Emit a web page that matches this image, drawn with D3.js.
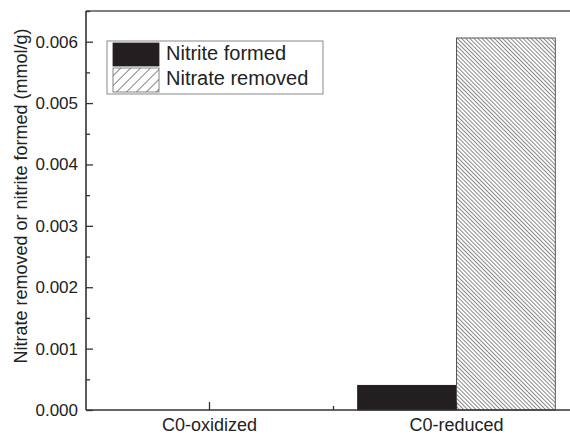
<!DOCTYPE html>
<html><head><meta charset="utf-8">
<script src="https://cdn.jsdelivr.net/npm/d3@7"></script>
<style>body{margin:0;background:#fff}svg{display:block;font-family:"Liberation Sans",Arial,sans-serif}</style>
</head><body><svg id="c" width="570" height="435"></svg>
<script>
const categories = ["C0-oxidized", "C0-reduced"];
const seriesNames = ["Nitrite formed", "Nitrate removed"];
const nitriteFormed = [0, 0.0004];
const nitrateRemoved = [0, 0.00606];
const yTicks = [0, 0.001, 0.002, 0.003, 0.004, 0.005, 0.006];
const yMinorTicks = [0.0005, 0.0015, 0.0025, 0.0035, 0.0045, 0.0055, 0.0065];

const svg = d3.select("#c");
const mLeft = 86, mBottom = 410, mTop = 11, bandW = 247;
const x = d3.scaleBand().domain(categories).range([mLeft, mLeft + bandW * categories.length]).padding(0);
const x1 = d3.scaleBand().domain(seriesNames).range([x.bandwidth() * 0.1, x.bandwidth() * 0.9]).padding(0);
const y = d3.scaleLinear().domain([0, 0.0065]).range([mBottom, mTop]);

const defs = svg.append("defs");
const pw = 2.9;
const p1 = defs.append("pattern").attr("id", "hatchBar").attr("patternUnits", "userSpaceOnUse")
  .attr("width", pw).attr("height", pw).attr("patternTransform", "rotate(-45)");
p1.append("rect").attr("width", pw).attr("height", pw).attr("fill", "#fff");
p1.append("line").attr("x1", 0.5).attr("y1", 0).attr("x2", 0.5).attr("y2", pw).attr("stroke", "#888").attr("stroke-width", 1);
const lw = 7;
const p2 = defs.append("pattern").attr("id", "hatchLeg").attr("patternUnits", "userSpaceOnUse")
  .attr("width", lw).attr("height", lw).attr("patternTransform", "rotate(45)");
p2.append("rect").attr("width", lw).attr("height", lw).attr("fill", "#fff");
p2.append("line").attr("x1", 0.5).attr("y1", 0).attr("x2", 0.5).attr("y2", lw).attr("stroke", "#666").attr("stroke-width", 0.8);

const fills = {"Nitrite formed": "#231f20", "Nitrate removed": "url(#hatchBar)"};
const strokes = {"Nitrite formed": "#231f20", "Nitrate removed": "#555"};

const rows = categories.map((c, i) => ({cat: c, vals: [nitriteFormed[i], nitrateRemoved[i]]}));
const g = svg.append("g");
rows.forEach(r => {
  r.vals.forEach((v, j) => {
    const s = seriesNames[j];
    if (v <= 0) return;
    g.append("rect")
      .attr("x", x(r.cat) + x1(s))
      .attr("y", y(v))
      .attr("width", x1.bandwidth())
      .attr("height", y(0) - y(v))
      .attr("fill", fills[s])
      .attr("stroke", strokes[s])
      .attr("stroke-width", 1);
  });
});

// top frame line
svg.append("line").attr("x1", mLeft).attr("x2", 570).attr("y1", y(0.0065)).attr("y2", y(0.0065))
  .attr("stroke", "#555").attr("stroke-width", 1.5);

// y axis
const yAxis = d3.axisLeft(y).tickValues(yTicks).tickFormat(d3.format(".3f")).tickSize(-7).tickPadding(8);
const ya = svg.append("g").attr("transform", `translate(${mLeft},0)`).call(yAxis);
const yMinor = d3.axisLeft(y).tickValues(yMinorTicks).tickFormat("").tickSize(-4);
const ym = svg.append("g").attr("transform", `translate(${mLeft},0)`).call(yMinor);
ym.select(".domain").remove();
ya.select(".domain").attr("d", `M0,${y(0)}V${y(0.0065)}`);

// x axis
const xAxis = d3.axisBottom(x).tickSize(-8).tickPadding(8);
const xa = svg.append("g").attr("transform", `translate(0,${mBottom})`).call(xAxis);
xa.select(".domain").attr("d", `M${mLeft},0H570`);
const xMinor = d3.axisBottom(d3.scaleLinear().domain([0, 1]).range([x(categories[1]), x(categories[1]) + 1]))
  .tickValues([0]).tickFormat("").tickSize(-4);
const xm = svg.append("g").attr("transform", `translate(0,${mBottom})`).call(xMinor);
xm.select(".domain").remove();

[ya, ym, xa, xm].forEach(a => {
  a.selectAll(".domain").attr("stroke", "#333").attr("stroke-width", 1.6);
  a.selectAll(".tick line").attr("stroke", "#333").attr("stroke-width", 1.3);
});
ya.selectAll("text").attr("font-size", 17).attr("fill", "#222").attr("font-family", "Liberation Sans, Arial, sans-serif");
xa.selectAll("text").attr("font-size", 18).attr("fill", "#222").attr("font-family", "Liberation Sans, Arial, sans-serif");

// y label
svg.append("text").attr("transform", "rotate(-90)").attr("x", -196).attr("y", 27)
  .attr("text-anchor", "middle").attr("font-size", 18).attr("fill", "#222")
  .text("Nitrate removed or nitrite formed (mmol/g)");

// legend
const leg = svg.append("g");
leg.append("rect").attr("x", 107).attr("y", 41).attr("width", 216).attr("height", 53)
  .attr("fill", "#fff").attr("stroke", "#888").attr("stroke-width", 1);
const legFills = ["#231f20", "url(#hatchLeg)"];
seriesNames.forEach((s, i) => {
  leg.append("rect").attr("x", 113).attr("y", 43 + i * 25).attr("width", 46).attr("height", 23 + i)
    .attr("fill", legFills[i]).attr("stroke", i ? "#666" : "#231f20").attr("stroke-width", 0.8);
  leg.append("text").attr("x", 166).attr("y", 60 + i * 25).attr("font-size", 20).attr("fill", "#222").text(s);
});
</script></body></html>
